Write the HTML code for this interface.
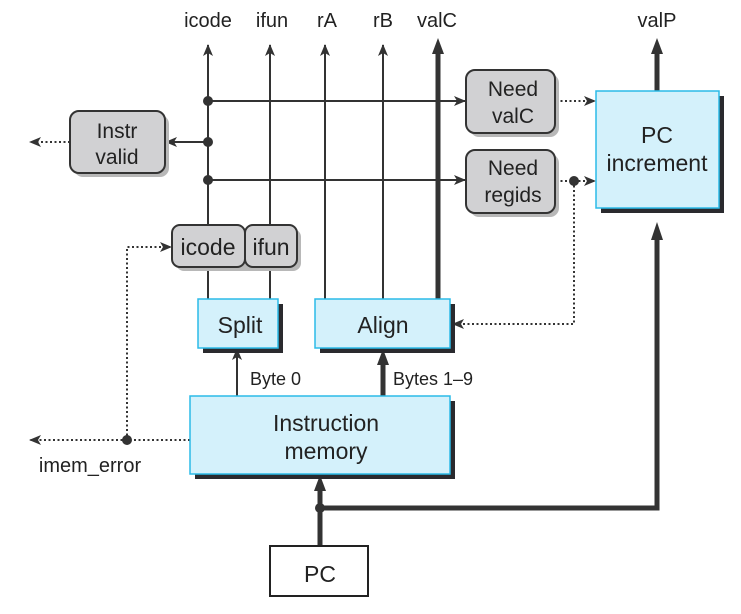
<!DOCTYPE html>
<html><head><meta charset="utf-8"><style>body{margin:0;background:#fff}svg{display:block}text{font-family:"Liberation Sans",sans-serif;fill:#222}</style></head><body>
<svg width="741" height="614" viewBox="0 0 741 614" xmlns="http://www.w3.org/2000/svg">
<defs>
<marker id="a" markerWidth="12" markerHeight="10" refX="11" refY="5" orient="auto" markerUnits="userSpaceOnUse"><path d="M0,0 L12,5 L0,10 L3,5z" fill="#333"/></marker>
</defs>
<g stroke="#333" stroke-width="2" fill="none">
<line x1="208" y1="299" x2="208" y2="45" marker-end="url(#a)"/>
<line x1="270" y1="299" x2="270" y2="45" marker-end="url(#a)"/>
<line x1="325" y1="299" x2="325" y2="45" marker-end="url(#a)"/>
<line x1="383" y1="299" x2="383" y2="45" marker-end="url(#a)"/>
<line x1="208" y1="101" x2="465" y2="101" marker-end="url(#a)"/>
<line x1="208" y1="180" x2="465" y2="180" marker-end="url(#a)"/>
<line x1="208" y1="142" x2="166" y2="142" marker-end="url(#a)"/>
<line x1="237" y1="396" x2="237" y2="349" marker-end="url(#a)"/>
</g>
<g stroke="#333" stroke-width="5" fill="none">
<line x1="438" y1="299" x2="438" y2="50"/>
<line x1="657" y1="91" x2="657" y2="50"/>
<line x1="383" y1="396" x2="383" y2="362"/>
<line x1="320" y1="545" x2="320" y2="488"/>
<polyline points="320,508 657,508 657,238"/>
</g>
<g fill="#333">
<path d="M438,38 L444,54 L432,54z"/><path d="M657,38 L663,54 L651,54z"/>
<path d="M383,349 L389,365 L377,365z"/><path d="M320,475 L326,491 L314,491z"/><path d="M657,222 L663,240 L651,240z"/>
<circle cx="208" cy="101" r="5"/><circle cx="208" cy="142" r="5"/><circle cx="208" cy="180" r="5"/>
<circle cx="574" cy="181" r="5"/><circle cx="127" cy="440" r="5"/><circle cx="320" cy="508" r="5"/>
</g>
<g stroke="#333" stroke-width="2" stroke-dasharray="2,2.5" fill="none">
<line x1="556" y1="101" x2="595" y2="101" marker-end="url(#a)"/>
<line x1="556" y1="181" x2="595" y2="181" marker-end="url(#a)"/>
<polyline points="574,181 574,324 453,324" marker-end="url(#a)"/>
<line x1="70" y1="142" x2="30" y2="142" marker-end="url(#a)"/>
<line x1="190" y1="440" x2="30" y2="440" marker-end="url(#a)"/>
<polyline points="127,440 127,247 171,247" marker-end="url(#a)"/>
</g>
<g>
<rect x="74" y="115" width="95" height="62" rx="9" fill="#b8b8b8"/>
<rect x="70" y="111" width="95" height="62" rx="9" fill="#d1d1d3" stroke="#333" stroke-width="2"/>
<rect x="470" y="74" width="89" height="63" rx="9" fill="#b8b8b8"/>
<rect x="466" y="70" width="89" height="63" rx="9" fill="#d1d1d3" stroke="#333" stroke-width="2"/>
<rect x="470" y="154" width="89" height="63" rx="9" fill="#b8b8b8"/>
<rect x="466" y="150" width="89" height="63" rx="9" fill="#d1d1d3" stroke="#333" stroke-width="2"/>
<rect x="176" y="229" width="125" height="42" rx="8" fill="#b8b8b8"/>
<rect x="172" y="225" width="73" height="42" rx="8" fill="#d1d1d3" stroke="#333" stroke-width="2"/>
<rect x="245" y="225" width="52" height="42" rx="8" fill="#d1d1d3" stroke="#333" stroke-width="2"/>
</g>
<g>
<rect x="601" y="96" width="123" height="117" fill="#2a2a2e"/>
<rect x="596" y="91" width="123" height="117" fill="#d4f1fb" stroke="#2bbbe8" stroke-width="1.5"/>
<rect x="203" y="304" width="80" height="49" fill="#2a2a2e"/>
<rect x="198" y="299" width="80" height="49" fill="#d4f1fb" stroke="#2bbbe8" stroke-width="1.5"/>
<rect x="320" y="304" width="135" height="49" fill="#2a2a2e"/>
<rect x="315" y="299" width="135" height="49" fill="#d4f1fb" stroke="#2bbbe8" stroke-width="1.5"/>
<rect x="195" y="401" width="260" height="78" fill="#2a2a2e"/>
<rect x="190" y="396" width="260" height="78" fill="#d4f1fb" stroke="#2bbbe8" stroke-width="1.5"/>
<rect x="270" y="546" width="98" height="50" fill="#fff" stroke="#222" stroke-width="2"/>
</g>
<g font-size="20" text-anchor="middle">
<text x="208" y="27">icode</text><text x="272" y="27">ifun</text><text x="327" y="27">rA</text><text x="383" y="27">rB</text><text x="437" y="27">valC</text><text x="657" y="27">valP</text>
<text x="117" y="138" font-size="21">Instr</text><text x="117" y="164" font-size="21">valid</text>
<text x="513" y="96" font-size="21">Need</text><text x="513" y="123" font-size="21">valC</text>
<text x="513" y="175" font-size="21">Need</text><text x="513" y="202" font-size="21">regids</text>
<text x="208" y="255" font-size="23">icode</text><text x="271" y="255" font-size="23">ifun</text>
<text x="240" y="333" font-size="23">Split</text><text x="383" y="333" font-size="23">Align</text>
<text x="326" y="431" font-size="23">Instruction</text><text x="326" y="459" font-size="23">memory</text>
<text x="657" y="143" font-size="23">PC</text><text x="657" y="171" font-size="23">increment</text>
<text x="320" y="582" font-size="23">PC</text>
<text x="90" y="472">imem_error</text>
</g>
<text x="250" y="385" font-size="18">Byte 0</text>
<text x="393" y="385" font-size="18">Bytes 1–9</text>
</svg>
</body></html>
